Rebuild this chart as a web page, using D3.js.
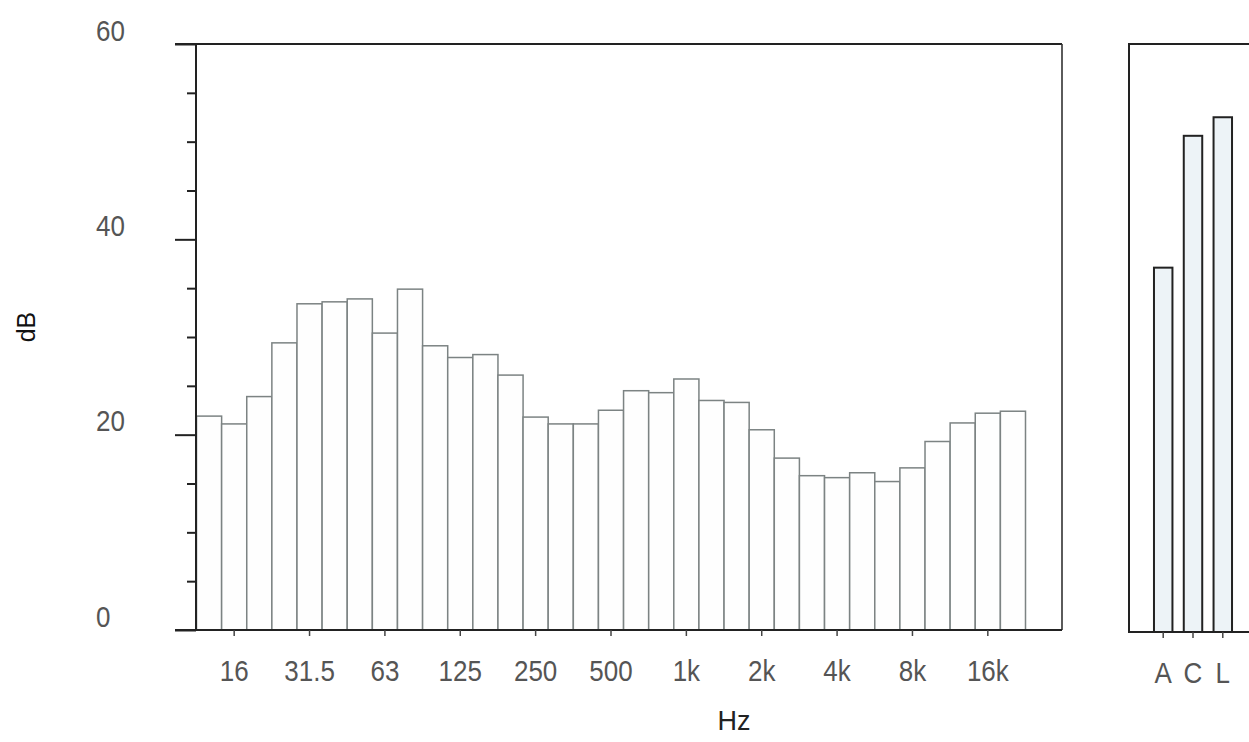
<!DOCTYPE html>
<html>
<head>
<meta charset="utf-8">
<script src="https://cdn.jsdelivr.net/npm/d3@7"></script>
<style>
  html, body { margin: 0; padding: 0; background: #fff; }
  svg { display: block; }
  text { font-family: "Liberation Sans", Arial, sans-serif; }
</style>
</head>
<body>
<svg id="chart" width="1249" height="742"></svg>
<script>
// 1/3-octave band centre frequencies (Hz)
const bands = ["12.5","16","20","25","31.5","40","50","63","80","100","125","160","200",
  "250","315","400","500","630","800","1k","1.25k","1.6k","2k","2.5k","3.15k","4k",
  "5k","6.3k","8k","10k","12.5k","16k","20k"];
// band levels (dB)
const levels = [21.9,21.1,23.9,29.4,33.4,33.6,33.9,30.4,34.9,29.1,27.9,28.2,26.1,
  21.8,21.1,21.1,22.5,24.5,24.3,25.7,23.5,23.3,20.5,17.6,15.8,15.6,16.1,15.2,16.6,
  19.3,21.2,22.2,22.4];
// labelled bands on the frequency axis
const freqTicks = ["16","31.5","63","125","250","500","1k","2k","4k","8k","16k"];
// overall weighted levels (dB)
const weightings = ["A","C","L"];
const weightedLevels = [37.1,50.6,52.5];
// level axis ticks
const levelTicks = d3.range(0, 61, 5);
const levelLabels = [0, 20, 40, 60];

const svg = d3.select("#chart");

const y = d3.scaleLinear().domain([0, 60]).range([630, 44]);
const x = d3.scaleBand().domain(bands).range([196.5, 1025.5]).padding(0);

// slightly tall lettering used for all tick labels
const STRETCH = "scale(1,1.14)";
function styleTickText(sel, offset) {
  sel.attr("y", null)
    .attr("dy", "0.36em")
    .attr("transform", `translate(0,${offset}) ${STRETCH}`)
    .attr("font-size", 26)
    .attr("fill", "#555")
    .attr("font-family", "'Liberation Sans', Arial, sans-serif");
}

// ---- spectrum panel ----
const main = svg.append("g");

// frame: top and right edges
main.append("line").attr("x1", 175).attr("x2", 1062).attr("y1", y(60)).attr("y2", y(60))
  .attr("stroke", "#222").attr("stroke-width", 2);
main.append("line").attr("x1", 1062).attr("x2", 1062).attr("y1", y(60)).attr("y2", y(0))
  .attr("stroke", "#333").attr("stroke-width", 1.6);

// bars
main.append("g").selectAll("rect").data(levels).join("rect")
  .attr("x", (d, i) => x(bands[i]))
  .attr("y", d => y(d))
  .attr("width", x.bandwidth())
  .attr("height", d => y(0) - y(d))
  .attr("fill", "#fefefe")
  .attr("stroke", "#7c8383")
  .attr("stroke-width", 1.5);

// level axis
const yAxis = main.append("g").attr("transform", "translate(196,0)")
  .call(d3.axisLeft(y).tickValues(levelTicks).tickFormat("").tickSizeOuter(0));
yAxis.select(".domain").attr("stroke", "#222").attr("stroke-width", 2)
  .attr("d", `M0,${y(60)}V${y(0)}`);
yAxis.selectAll(".tick line")
  .attr("stroke", "#222").attr("stroke-width", 2)
  .attr("x2", d => levelLabels.includes(d) ? -21 : -9);

// level labels sit a little above their ticks
main.append("g").selectAll("text").data(levelLabels).join("text")
  .attr("transform", d => `translate(96,${y(d) - 14}) ${STRETCH}`)
  .attr("dy", "0.36em")
  .attr("font-size", 26).attr("fill", "#555")
  .text(d => d);

// frequency axis
const xAxis = main.append("g").attr("transform", `translate(0,${y(0)})`)
  .call(d3.axisBottom(x).tickValues(freqTicks).tickSize(6).tickSizeOuter(0));
xAxis.select(".domain").attr("stroke", "#222").attr("stroke-width", 2)
  .attr("d", "M175,0H1062");
xAxis.selectAll(".tick line").attr("stroke", "#444").attr("stroke-width", 1.5);
xAxis.selectAll(".tick text").call(styleTickText, 40);

// axis titles
svg.append("text").attr("x", 734).attr("y", 720).attr("text-anchor", "middle")
  .attr("dy", "0.36em").attr("font-size", 27).attr("fill", "#222").text("Hz");
svg.append("text").attr("transform", "translate(26,327) rotate(-90)")
  .attr("text-anchor", "middle").attr("dy", "0.36em")
  .attr("font-size", 25).attr("fill", "#111").text("dB");

// ---- weighted level panel ----
const xw = d3.scaleBand().domain(weightings).range([1151, 1235]).paddingInner(0.38).paddingOuter(0.1);
const side = svg.append("g");
side.append("path")
  .attr("d", `M1300,${y(60)}H1129V${y(0) + 2}H1300`)
  .attr("fill", "none").attr("stroke", "#222").attr("stroke-width", 2);

side.append("g").selectAll("rect").data(weightedLevels).join("rect")
  .attr("x", (d, i) => xw(weightings[i]))
  .attr("y", d => y(d))
  .attr("width", xw.bandwidth())
  .attr("height", d => y(0) + 2 - y(d))
  .attr("fill", "#edf3f7")
  .attr("stroke", "#222")
  .attr("stroke-width", 2);

const wAxis = side.append("g").attr("transform", `translate(0,${y(0) + 2})`)
  .call(d3.axisBottom(xw).tickSize(6).tickSizeOuter(0));
wAxis.select(".domain").remove();
wAxis.selectAll(".tick line").attr("stroke", "#444").attr("stroke-width", 1.5);
wAxis.selectAll(".tick text").call(styleTickText, 40);
</script>
</body>
</html>
